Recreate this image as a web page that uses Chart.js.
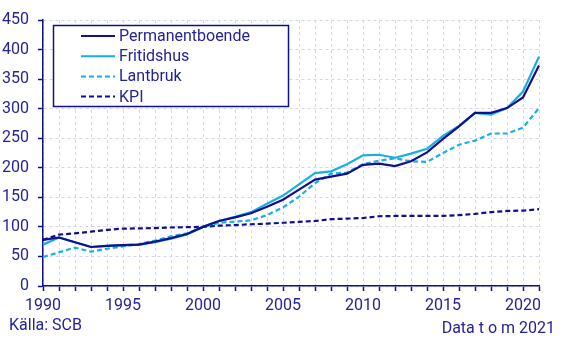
<!DOCTYPE html>
<html>
<head>
<meta charset="utf-8">
<script src="https://cdn.jsdelivr.net/npm/chart.js@4.4.1/dist/chart.umd.min.js"></script>
<style>
  html, body { margin: 0; padding: 0; background: #ffffff; }
  #wrap { position: relative; width: 565px; height: 341px; }
</style>
</head>
<body>
<div id="wrap"><canvas id="c" width="565" height="341"></canvas></div>
<script>
// Fastighetsprisindex, 2000 = 100
const years = [];
for (let y = 1990; y <= 2021; y++) years.push(String(y));

const permanentboende = [78, 82, 74, 66, 68, 69, 70, 75, 81, 88, 100, 110, 116, 123, 134, 146, 163, 180, 185, 190, 205, 207, 203, 211, 226, 249, 270, 293, 293, 301, 319, 373];
const fritidshus      = [70, 82, 74, 66, 68, 69, 70, 74, 80, 87, 100, 110, 117, 125, 139, 153, 172, 191, 194, 206, 221, 222, 217, 224, 232, 254, 271, 293, 290, 301, 329, 388];
const lantbruk        = [49, 57, 65, 58, 63, 67, 71, 77, 84, 89, 100, 107, 109, 111, 120, 133, 151, 174, 190, 192, 206, 212, 216, 211, 210, 225, 239, 246, 258, 258, 268, 301];
const kpi             = [78, 87, 89, 92, 95, 97, 97.5, 98, 99, 99.5, 100, 102, 103, 104.5, 105.5, 107, 108.5, 110, 113, 114, 115, 118, 118.5, 118.5, 118.5, 118.5, 120, 122, 125, 127, 127.5, 130];

const yTicks = { min: 0, max: 450, step: 50 };
const sourceText = 'Källa: SCB';
const dataText = 'Data t o m 2021';

const NAVY = '#10108c';
const LIGHT = '#1aaee6';
const TEXT = '#23239a';
const GRID = '#d4d4f0';
const FONT = 'Roboto, "Liberation Sans", sans-serif';

// Legend box drawn inside the plot area
const boxLegend = {
  id: 'boxLegend',
  afterDatasetsDraw(chart) {
    const ctx = chart.ctx;
    const x0 = 53.5, y0 = 25.5, w = 235, h = 81;
    ctx.save();
    ctx.fillStyle = '#ffffff';
    ctx.fillRect(x0, y0, w, h);
    ctx.strokeStyle = NAVY;
    ctx.lineWidth = 1.5;
    ctx.strokeRect(x0, y0, w, h);
    chart.data.datasets.forEach((ds, i) => {
      const cy = 36 + i * 20.2;
      ctx.beginPath();
      ctx.strokeStyle = ds.borderColor;
      ctx.lineWidth = 2;
      ctx.setLineDash(ds.borderDash || []);
      ctx.moveTo(81, cy);
      ctx.lineTo(115, cy);
      ctx.stroke();
      ctx.setLineDash([]);
      ctx.fillStyle = TEXT;
      ctx.font = '16px ' + FONT;
      ctx.textBaseline = 'middle';
      ctx.textAlign = 'left';
      ctx.fillText(ds.label, 119, cy + 1);
    });
    ctx.restore();
  }
};

// Source and date notes under the axis
const notes = {
  id: 'notes',
  afterDraw(chart) {
    const ctx = chart.ctx;
    ctx.save();
    ctx.fillStyle = TEXT;
    ctx.font = '16px ' + FONT;
    ctx.textBaseline = 'alphabetic';
    ctx.textAlign = 'left';
    ctx.fillText(sourceText, 9, 330);
    ctx.textAlign = 'right';
    ctx.fillText(dataText, 555, 333);
    ctx.restore();
  }
};

new Chart(document.getElementById('c'), {
  type: 'line',
  data: {
    labels: years,
    datasets: [
      { label: 'Permanentboende', data: permanentboende, borderColor: NAVY, borderWidth: 2.2 },
      { label: 'Fritidshus', data: fritidshus, borderColor: LIGHT, borderWidth: 2.2 },
      { label: 'Lantbruk', data: lantbruk, borderColor: LIGHT, borderWidth: 2.2, borderDash: [5, 3] },
      { label: 'KPI', data: kpi, borderColor: NAVY, borderWidth: 2.2, borderDash: [5, 3] }
    ]
  },
  options: {
    responsive: false,
    animation: false,
    events: [],
    layout: { padding: { top: 20, right: 26, left: 0, bottom: 0 } },
    elements: { point: { radius: 0 }, line: { tension: 0, borderCapStyle: 'butt' } },
    plugins: { legend: { display: false }, tooltip: { enabled: false } },
    scales: {
      x: {
        type: 'category',
        offset: false,
        grid: { offset: false, color: GRID, lineWidth: 1, tickColor: NAVY, tickLength: 5, tickWidth: 1.5 },
        border: { color: NAVY, width: 1.5, dash: [3, 3] },
        ticks: {
          autoSkip: false, maxRotation: 0, padding: 5,
          color: TEXT, font: { family: FONT, size: 16 },
          callback(v) { const l = this.getLabelForValue(v); return Number(l) % 5 === 0 ? l : ''; }
        },
        afterFit(s) { s.height = 55; }
      },
      y: {
        min: yTicks.min, max: yTicks.max,
        grid: { color: GRID, lineWidth: 1, tickColor: NAVY, tickLength: 5, tickWidth: 1.5 },
        border: { color: NAVY, width: 1.5, dash: [3, 3] },
        ticks: { stepSize: yTicks.step, padding: 9, color: TEXT, font: { family: FONT, size: 16 } },
        afterFit(s) { s.width = 43; }
      }
    }
  },
  plugins: [boxLegend, notes]
});
</script>
</body>
</html>
